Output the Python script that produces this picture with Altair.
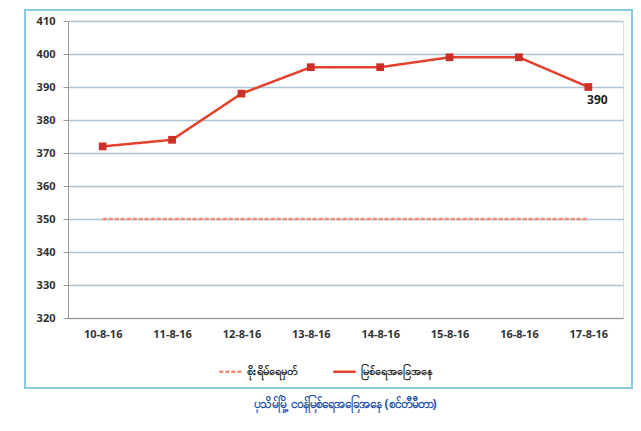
import altair as alt
import pandas as pd

dates = ["10-8-16", "11-8-16", "12-8-16", "13-8-16", "14-8-16", "15-8-16", "16-8-16", "17-8-16"]
river = [372, 374, 388, 396, 396, 399, 399, 390]
danger = [350, 350, 350, 350, 350, 350, 350, 350]
y_ticks = [320, 330, 340, 350, 360, 370, 380, 390, 400, 410]
s_danger = "စိုးရိမ်ရေမှတ်"
s_river = "မြစ်ရေအခြေအနေ"
title_text = "ပုသိမ်မြို့ ငဝန်မြစ်ရေအခြေအနေ (စင်တီမီတာ)"

rows = []
for d, v in zip(dates, danger):
    rows.append({"date": d, "level": v, "series": s_danger})
for d, v in zip(dates, river):
    rows.append({"date": d, "level": v, "series": s_river})
df = pd.DataFrame(rows)
df_river = df[df.series == s_river]
df_last = df_river[df_river.date == dates[-1]]

W, H = 555, 297

x = alt.X("date:O", sort=dates, title=None,
          axis=alt.Axis(labelAngle=0, labelFontWeight="bold", labelFontSize=11,
                        labelColor="#333333", labelPadding=10, ticks=False,
                        domainColor="#9a9a9a", grid=False))
y = alt.Y("level:Q", title=None,
          scale=alt.Scale(domain=[320, 410], nice=False, zero=False),
          axis=alt.Axis(values=y_ticks, tickCount=10, labelOverlap=False, labelFontSize=11,
                        labelFontWeight="bold",
                        labelColor="#333333", labelPadding=8, tickSize=5,
                        tickColor="#9a9a9a", domainColor="#9a9a9a",
                        gridColor="#a9c4d4", gridWidth=1.3))

color = alt.Color("series:N",
                  scale=alt.Scale(domain=[s_danger, s_river], range=["#f08a78", "#e2412d"]),
                  legend=alt.Legend(title=None, orient="none", direction="horizontal",
                                    legendX=150, legendY=338, symbolType="stroke",
                                    symbolSize=500, symbolStrokeWidth=2.5,
                                    labelFontSize=11, labelColor="#222222",
                                    labelFontWeight="bold", columnPadding=30))
dash = alt.StrokeDash("series:N",
                      scale=alt.Scale(domain=[s_danger, s_river], range=[[4, 2], [1, 0]]),
                      legend=None)

lines = alt.Chart(df).mark_line(strokeWidth=2.5).encode(
    x=x, y=y, color=color, strokeDash=dash
)
points = alt.Chart(df_river).mark_point(shape="square", filled=True, size=60,
                                        color="#cc2e28", opacity=1).encode(
    x=alt.X("date:O", sort=dates), y="level:Q"
)
label = alt.Chart(df_last).mark_text(fontWeight="bold", fontSize=12, color="#222222",
                                     dx=9, dy=13).encode(
    x=alt.X("date:O", sort=dates), y="level:Q", text="level:Q"
)
frame = alt.Chart(pd.DataFrame({"a": [0]})).mark_rect(
    fill=None, stroke="#86c8e0", strokeWidth=2
).encode(x=alt.value(-43), x2=alt.value(564), y=alt.value(-11), y2=alt.value(367))

chart = alt.layer(frame, lines, points, label).properties(
    width=W, height=H,
    title=alt.Title(title_text, orient="bottom", anchor="middle", offset=10,
                    fontSize=12, color="#1f4fa8", fontWeight="bold"),
    autosize=alt.AutoSizeParams(type="none"),
    padding={"left": 60, "top": 13, "right": 10, "bottom": 95},
).configure_view(stroke=None).configure(background="white", font="Noto Sans")

chart.save("out.html", embed_options={"renderer": "svg", "actions": False})
